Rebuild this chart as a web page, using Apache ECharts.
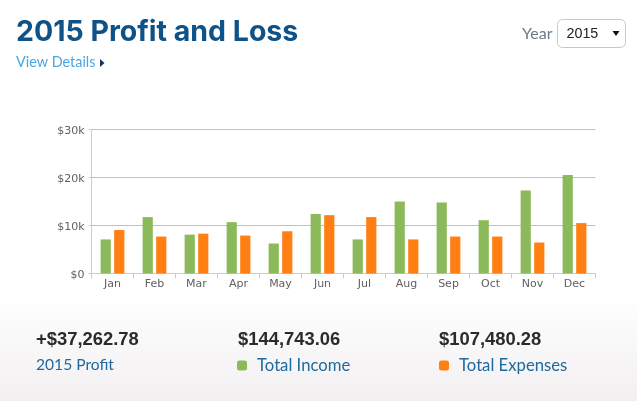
<!DOCTYPE html>
<html>
<head>
<meta charset="utf-8">
<style>
html,body{margin:0;padding:0;background:#fff;}
#main{width:637px;height:401px;}
</style>
<script src="https://cdn.jsdelivr.net/npm/echarts@6/dist/echarts.min.js"></script>
</head>
<body>
<div id="main"></div>
<script>
// values, in $k
const months=['Jan','Feb','Mar','Apr','May','Jun','Jul','Aug','Sep','Oct','Nov','Dec'];
const income=[7.1,11.75,8.1,10.7,6.25,12.4,7.1,15,14.8,11.1,17.3,20.5];
const expenses=[9.05,7.7,8.3,7.9,8.8,12.15,11.75,7.1,7.7,7.7,6.45,10.5];
const yTicks=[0,10,20,30];
const summary=[
    {value:'+$37,262.78',x:36},
    {value:'$144,743.06',x:238},
    {value:'$107,480.28',x:439}
];

const labelFont='"Lato","Open Sans",sans-serif';
const axisFont='"DejaVu Sans",sans-serif';

let chart=echarts.init(document.getElementById('main'));

function text(x,y,str,size,color,weight,family){
    return {type:'text',x:x,y:y,silent:true,style:{text:str,fontSize:size,fill:color,fontWeight:weight||'normal',fontFamily:family||labelFont,textVerticalAlign:'middle'}};
}

const legendText={fontSize:16.7,color:'#1f6a9c',fontFamily:labelFont,padding:[0,0,0,5]};

chart.setOption({
    animation:false,
    grid:{left:91.5,right:41.5,top:129.5,bottom:127.5},
    legend:[
        {data:['Total Income'],left:232,top:352,itemWidth:10,itemHeight:10,icon:'roundRect',selectedMode:false,textStyle:legendText},
        {data:['Total Expenses'],left:434,top:352,itemWidth:10,itemHeight:10,icon:'roundRect',selectedMode:false,textStyle:legendText}
    ],
    xAxis:{
        type:'category',data:months,
        axisLine:{lineStyle:{color:'#c0d0e0',width:1}},
        axisTick:{show:true,length:5,lineStyle:{color:'#c0d0e0'}},
        axisLabel:{fontSize:11,color:'#606060',fontFamily:axisFont,margin:5}
    },
    yAxis:{
        type:'value',min:0,max:30,interval:10,
        axisLine:{show:true,lineStyle:{color:'#c0d0e0',width:1}},
        axisTick:{show:true,length:3,lineStyle:{color:'#c0d0e0'}},
        splitLine:{lineStyle:{color:'#c0c0c0',width:1}},
        axisLabel:{margin:7,
            rich:{t:{fontSize:11,color:'#606060',fontFamily:axisFont,padding:[4,0,0,0]}},
            formatter:v=>yTicks.includes(v)?(v===0?'{t|$0}':'{t|$'+v+'k}'):''}
    },
    series:[
        {name:'Total Income',type:'bar',data:income,barWidth:10.2,barGap:'33%',itemStyle:{color:'#8cba5a'}},
        {name:'Total Expenses',type:'bar',data:expenses,barWidth:10.2,itemStyle:{color:'#ff7f12'}}
    ],
    graphic:[
        {type:'rect',z:-10,silent:true,shape:{x:0,y:296,width:637,height:105},
            style:{fill:new echarts.graphic.LinearGradient(0,0,0,1,[{offset:0,color:'#ffffff'},{offset:1,color:'#f2eff1'}])}},
        text(16,32,'2015 Profit and Loss',28.5,'#0f5288','bold','"Inter",sans-serif'),
        text(16,62.5,'View Details',14.4,'#4ba6e4'),
        {type:'polygon',silent:true,shape:{points:[[100,59],[104.5,63],[100,67]]},style:{fill:'#12375f'}},
        text(522,34,'Year',16,'#6f7a85'),
        {type:'rect',silent:true,shape:{x:557.5,y:19.5,width:68,height:28,r:5},style:{fill:'#fff',stroke:'#c8c8c8',lineWidth:1}},
        text(566.5,34,'2015',14.3,'#222','normal','"Liberation Sans",sans-serif'),
        {type:'polygon',silent:true,shape:{points:[[612.5,31],[619.5,31],[616,36]]},style:{fill:'#111'}},
        ...summary.map(s=>text(s.x,340,s.value,18.4,'#2b2b2b','bold','"Liberation Sans",sans-serif')),
        text(36,365,'2015 Profit',15.6,'#1f6a9c')
    ]
});
</script>
</body>
</html>
